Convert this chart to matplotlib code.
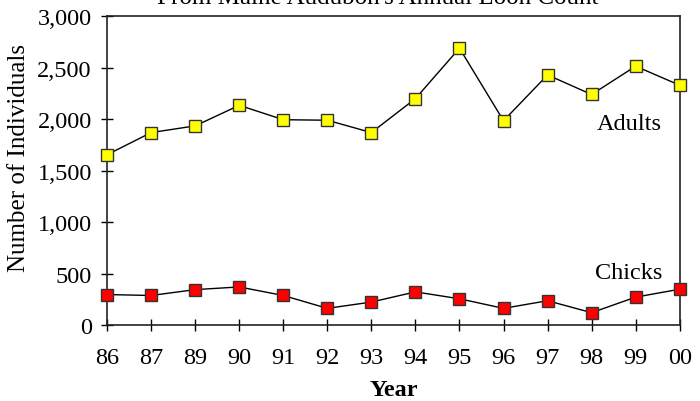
import matplotlib
matplotlib.use('Agg')
import matplotlib.pyplot as plt
from matplotlib.ticker import FuncFormatter

# Datos
years = ['86', '87', '89', '90', '91', '92', '93', '94', '95', '96', '97', '98', '99', '00']
adults = [1655, 1870, 1935, 2135, 1995, 1990, 1870, 2200, 2690, 1985, 2430, 2240, 2515, 2330]
chicks = [296, 287, 344, 370, 287, 162, 223, 322, 255, 162, 236, 120, 271, 348]

plt.rcParams['font.family'] = ['Liberation Serif', 'DejaVu Serif']

fig = plt.figure(figsize=(7, 4.02), dpi=100)
ax = fig.add_axes([0.153, 0.189, 0.818, 0.768])

x = list(range(len(years)))
ax.plot(x, adults, color='black', lw=1, marker='s', ms=8.5,
        mfc='#FFFF00', mec='#333333', mew=1, clip_on=False, zorder=3)
ax.plot(x, chicks, color='black', lw=1, marker='s', ms=8.5,
        mfc='#FF0000', mec='#333333', mew=1, clip_on=False, zorder=3)

ax.set_xlim(0, len(years) - 1)
ax.set_ylim(0, 3000)
ax.set_xticks(x)
ax.set_xticklabels(years)
ax.set_yticks(range(0, 3001, 500))
ax.yaxis.set_major_formatter(FuncFormatter(lambda v, p: f'{int(v):,}'))

ax.tick_params(direction='inout', length=8, width=1, labelsize=17.5)
ax.tick_params(axis='x', pad=12)
ax.tick_params(axis='y', pad=7)
for s in ax.spines.values():
    s.set_linewidth(1.2)
    s.set_color('#222222')

# Etiquetas de las series
ax.text(12.6, 1960, 'Adults', fontsize=17.5, ha='right', va='center')
ax.text(12.6, 510, 'Chicks', fontsize=17.5, ha='right', va='center')

ax.set_xlabel('Year', fontsize=17.5, fontweight='bold', labelpad=8)
ax.set_ylabel('Number of Individuals', fontsize=18, va='center')
ax.yaxis.set_label_coords(-0.153, 0.545)

# Titulo cortado en la parte superior
fig.text(0.539, 1 - 4 / 402, "From Maine Audubon's Annual Loon Count",
         fontsize=18, ha='center', va='baseline')

fig.savefig('out.png', dpi=100)
